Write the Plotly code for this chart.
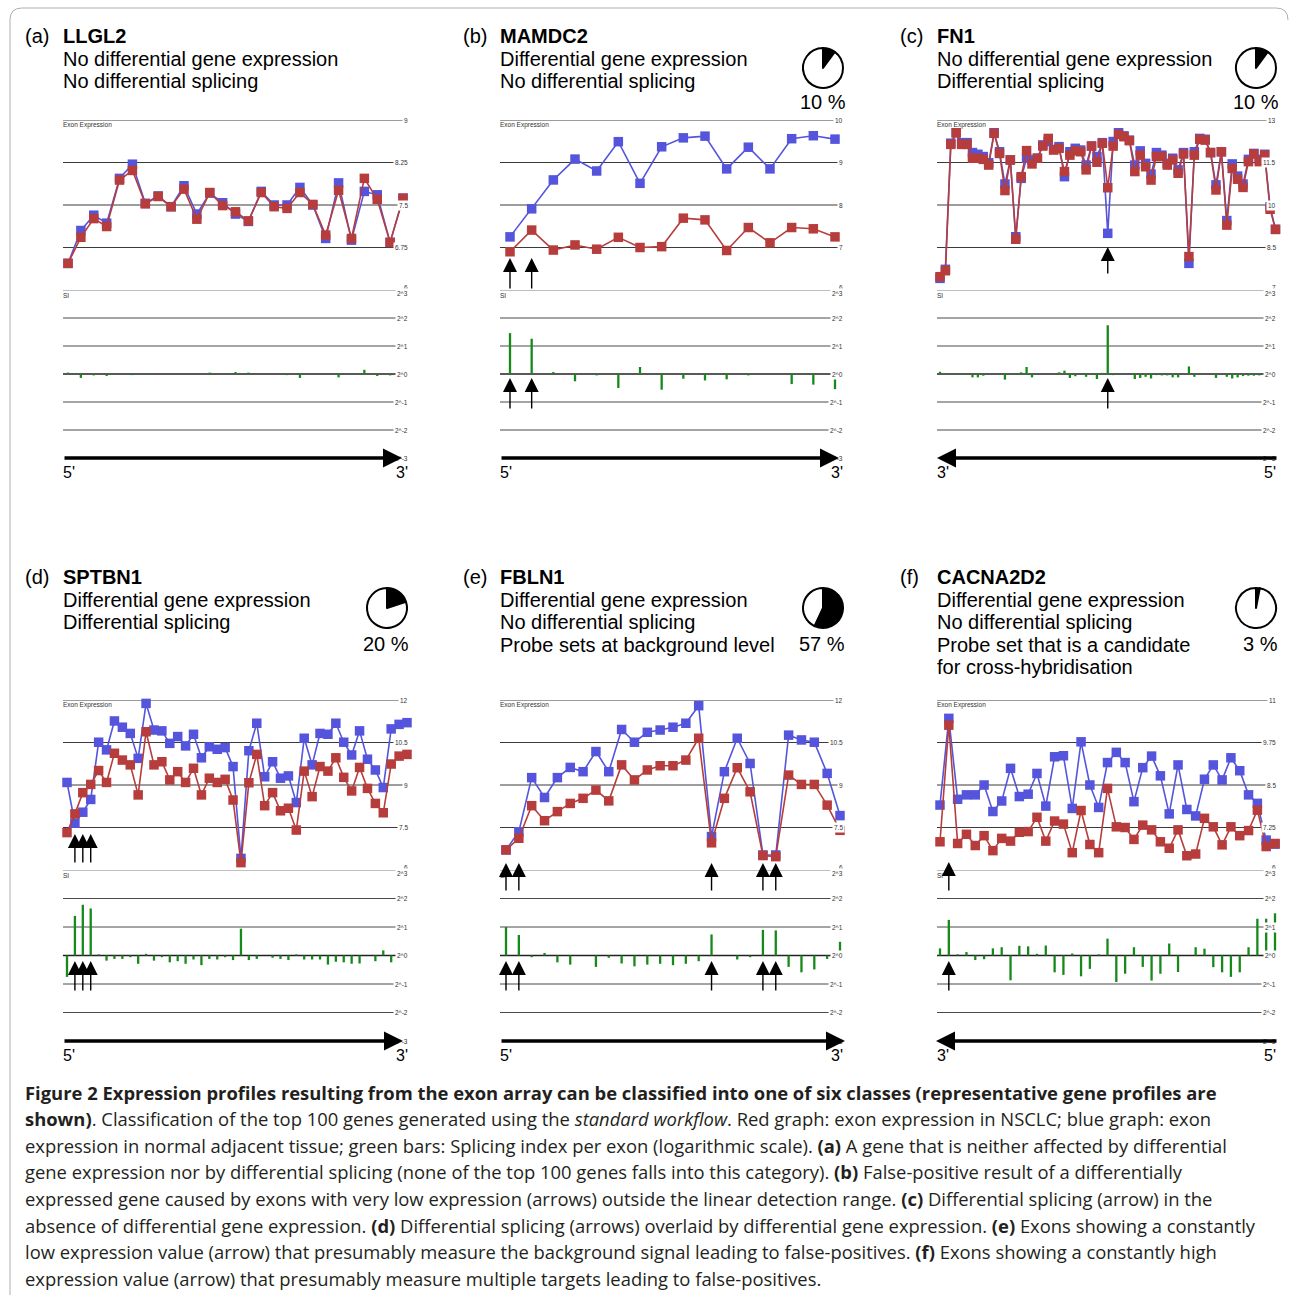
import plotly.graph_objects as go

W, H = 1290, 1295

# ---------------- data ----------------
genes = ["LLGL2", "MAMDC2", "FN1", "SPTBN1", "FBLN1", "CACNA2D2"]
letters = ["(a)", "(b)", "(c)", "(d)", "(e)", "(f)"]
descriptions = [
    ["No differential gene expression", "No differential splicing"],
    ["Differential gene expression", "No differential splicing"],
    ["No differential gene expression", "Differential splicing"],
    ["Differential gene expression", "Differential splicing"],
    ["Differential gene expression", "No differential splicing", "Probe sets at background level"],
    ["Differential gene expression", "No differential splicing", "Probe set that is a candidate",
     "for cross-hybridisation"],
]
percentages = [None, 10, 10, 20, 57, 3]

si_ticks = [3, 2, 1, 0, -1, -2, -3]
si_tick_labels = ["2^3", "2^2", "2^1", "2^0", "2^-1", "2^-2", "2^-3"]

# (a) LLGL2
a_normal = [6.47, 7.05, 7.32, 7.18, 7.97, 8.22, 7.53, 7.66, 7.47, 7.84, 7.34, 7.71, 7.54, 7.34, 7.21,
            7.74, 7.5, 7.5, 7.81, 7.5, 6.91, 7.89, 6.88, 7.74, 7.68, 6.84, 7.62]
a_nsclc = [6.47, 6.93, 7.26, 7.12, 7.94, 8.11, 7.52, 7.65, 7.47, 7.78, 7.25, 7.72, 7.49, 7.38, 7.22,
           7.72, 7.47, 7.44, 7.72, 7.51, 6.97, 7.76, 6.91, 7.97, 7.6, 6.84, 7.62]
a_si = [0.05, -0.14, -0.05, -0.07, 0, -0.04, 0.03, 0, 0, 0, 0, 0.05, 0, 0.07, 0.05, 0, 0, -0.04,
        -0.14, 0.03, 0, -0.12, 0, 0.15, -0.07, -0.05, 0]
a_ticks = [9, 8.25, 7.5, 6.75, 6]
a_tick_labels = ["9", "8.25", "7.5", "6.75", "6"]
a_arrows = []

# (b) MAMDC2
b_normal = [7.25, 7.91, 8.59, 9.08, 8.80, 9.49, 8.51, 9.37, 9.58, 9.62, 8.85, 9.36, 8.85, 9.56, 9.63, 9.55]
b_nsclc = [6.90, 7.41, 6.94, 7.06, 6.96, 7.24, 7.00, 7.02, 7.69, 7.65, 6.93, 7.47, 7.11, 7.47, 7.44, 7.25]
b_si = [1.46, 1.26, 0.07, -0.26, -0.05, -0.5, 0.25, -0.56, -0.17, -0.23, -0.19, -0.05, 0, -0.36, -0.38, -0.54]
b_ticks = [10, 9, 8, 7, 6]
b_tick_labels = ["10", "9", "8", "7", "6"]
b_arrows = [0, 1]

# (c) FN1
c_normal = [7.41, 7.73, 12.18, 12.55, 12.2, 12.2, 11.85, 11.79, 11.71, 11.49, 12.55, 11.88, 10.74, 11.59,
            8.88, 10.94, 11.65, 11.59, 11.65, 12.12, 12.24, 11.96, 12.06, 11.0, 11.88, 12.0, 11.94, 11.41,
            12.08, 11.71, 12.2, 9.0, 12.24, 12.55, 12.44, 12.29, 11.41, 11.91, 11.47, 11.09, 11.85, 11.76,
            11.47, 11.65, 11.24, 11.85, 7.94, 11.88, 12.35, 12.32, 11.85, 10.71, 11.88, 9.45, 11.45, 11.02,
            10.74, 11.61, 11.82, 11.61, 11.79, 9.94, 9.14]
c_nsclc = [7.47, 7.68, 12.14, 12.55, 12.14, 12.14, 11.65, 11.65, 11.61, 11.41, 12.53, 11.82, 10.51, 11.59,
           8.79, 11.0, 11.92, 11.45, 11.65, 12.08, 12.35, 11.94, 12.0, 11.18, 11.76, 11.91, 11.88, 11.24,
           12.08, 11.51, 12.18, 10.61, 12.08, 12.49, 12.41, 12.27, 11.18, 11.76, 11.35, 10.88, 11.71, 11.71,
           11.41, 11.59, 11.12, 11.8, 8.18, 11.76, 12.32, 12.29, 11.85, 10.53, 11.88, 9.29, 11.29, 10.91,
           10.62, 11.53, 11.8, 11.53, 11.76, 9.85, 9.14]
c_si = [0.08, 0, -0.03, 0.03, -0.03, 0, -0.12, -0.12, -0.06, 0, 0, 0, -0.2, 0, -0.03, 0.06, 0.25, -0.12,
        0, 0, 0.03, 0, 0.06, 0.12, -0.14, -0.08, 0, -0.1, 0.03, -0.18, 0.04, 1.74, -0.04, 0, 0, 0, -0.18,
        -0.14, -0.1, -0.16, -0.04, -0.05, -0.05, -0.12, -0.12, 0, 0.27, -0.1, 0, 0, 0, -0.14, 0, -0.1,
        -0.16, -0.12, -0.07, -0.06, -0.06, -0.05, 0, 0, 0]
c_ticks = [13, 11.5, 10, 8.5, 7]
c_tick_labels = ["13", "11.5", "10", "8.5", "7"]
c_arrows = [31]

# (d) SPTBN1
d_normal = [9.09, 7.65, 8.04, 8.49, 10.51, 10.24, 11.26, 11.04, 10.82, 9.94, 11.88, 10.94, 10.91, 10.47,
            10.71, 10.38, 10.79, 9.96, 10.35, 10.26, 10.32, 9.65, 6.41, 10.21, 11.18, 9.29, 9.82, 9.24,
            9.32, 8.38, 10.65, 9.71, 10.82, 10.79, 11.18, 10.51, 10.06, 10.91, 9.91, 9.53, 8.91, 10.98,
            11.14, 11.2]
d_nsclc = [7.32, 7.98, 8.73, 9.02, 9.51, 9.09, 10.12, 9.88, 9.71, 8.65, 10.88, 9.71, 9.82, 9.18, 9.47,
           9.09, 9.59, 8.65, 9.24, 9.09, 9.2, 8.47, 6.26, 9.08, 10.08, 8.27, 8.73, 8.09, 8.18, 7.41, 9.49,
           8.59, 9.65, 9.49, 9.96, 9.27, 8.79, 9.62, 8.88, 8.35, 8.02, 9.74, 10.02, 10.08]
d_si = [-0.75, 1.39, 1.78, 1.65, 0.04, -0.18, -0.12, -0.12, -0.06, -0.29, 0.06, -0.18, -0.06, -0.24,
        -0.2, -0.29, -0.14, -0.34, -0.12, -0.14, -0.06, -0.16, 0.94, -0.16, -0.12, 0, -0.08, -0.12,
        -0.16, 0.04, -0.14, -0.14, -0.14, -0.32, -0.22, -0.24, -0.29, -0.28, 0, -0.2, 0.18, -0.24, 0, 0]
d_ticks = [12, 10.5, 9, 7.5, 6]
d_tick_labels = ["12", "10.5", "9", "7.5", "6"]
d_arrows = [1, 2, 3]

# (e) FBLN1
e_normal = [6.71, 7.35, 9.26, 8.56, 9.26, 9.62, 9.47, 10.18, 9.47, 10.96, 10.51, 10.86, 10.94, 11.04,
            11.18, 11.8, 7.18, 9.47, 10.65, 9.76, 6.53, 6.53, 10.76, 10.59, 10.51, 9.41, 7.92]
e_nsclc = [6.71, 7.12, 8.27, 7.74, 8.06, 8.35, 8.53, 8.82, 8.44, 9.71, 9.18, 9.53, 9.68, 9.68, 9.88,
           10.65, 6.96, 8.53, 9.61, 8.76, 6.51, 6.47, 9.35, 9.02, 9.02, 8.29, 7.4]
e_si = [1.0, 0.72, -0.06, 0.09, -0.24, -0.32, 0, -0.4, -0.08, -0.28, -0.38, -0.32, -0.29, -0.34, -0.29,
        -0.2, 0.74, 0, -0.14, -0.06, 0.9, 0.88, -0.4, -0.59, -0.49, -0.12, 0.48]
e_ticks = [12, 10.5, 9, 7.5, 6]
e_tick_labels = ["12", "10.5", "9", "7.5", "6"]
e_arrows = [0, 1, 16, 20, 21]

# (f) CACNA2D2
f_normal = [7.91, 10.46, 8.08, 8.21, 8.21, 8.5, 7.72, 8.03, 8.99, 8.16, 8.23, 8.84, 7.88, 9.33, 9.36,
            7.81, 9.77, 8.5, 7.84, 9.16, 9.46, 9.16, 8.01, 9.01, 9.35, 8.77, 7.65, 9.09, 7.78, 7.59, 8.67,
            9.09, 8.65, 9.30, 8.92, 8.21, 7.96, 6.88, 6.76]
f_nsclc = [6.83, 10.26, 6.78, 7.05, 6.72, 7.01, 6.57, 6.93, 6.85, 7.11, 7.13, 7.55, 6.85, 7.44, 7.35,
           6.51, 7.75, 6.75, 6.51, 8.40, 7.27, 7.25, 6.90, 7.32, 7.18, 6.83, 6.64, 7.18, 6.42, 6.47, 7.52,
           7.27, 6.74, 7.27, 7.01, 7.16, 7.76, 6.69, 6.78]
f_si = [0.25, 1.25, 0.04, 0.12, -0.16, -0.13, 0.25, 0.29, -0.87, 0.34, 0.32, 0.06, 0.35, -0.59, -0.68,
        0.07, -0.73, -0.47, 0.04, 0.59, -0.93, -0.64, 0.29, -0.4, -0.88, -0.64, 0.42, -0.58, 0, 0.29,
        0.24, -0.41, -0.59, -0.75, -0.59, 0.29, 1.29, 1.29, 1.48]
f_ticks = [11, 9.75, 8.5, 7.25, 6]
f_tick_labels = ["11", "9.75", "8.5", "7.25", "6"]
f_arrows = [1]

orientations = ["right", "right", "left", "right", "right", "left"]

caption_lines = [
    "<b>Figure 2 Expression profiles resulting from the exon array can be classified into one of six classes (representative gene profiles are</b>",
    "<b>shown)</b>. Classification of the top 100 genes generated using the <i>standard workflow</i>. Red graph: exon expression in NSCLC; blue graph: exon",
    "expression in normal adjacent tissue; green bars: Splicing index per exon (logarithmic scale). <b>(a)</b> A gene that is neither affected by differential",
    "gene expression nor by differential splicing (none of the top 100 genes falls into this category). <b>(b)</b> False-positive result of a differentially",
    "expressed gene caused by exons with very low expression (arrows) outside the linear detection range. <b>(c)</b> Differential splicing (arrow) in the",
    "absence of differential gene expression. <b>(d)</b> Differential splicing (arrows) overlaid by differential gene expression. <b>(e)</b> Exons showing a constantly",
    "low expression value (arrow) that presumably measure the background signal leading to false-positives. <b>(f)</b> Exons showing a constantly high",
    "expression value (arrow) that presumably measure multiple targets leading to false-positives.",
]

panels = [
    dict(normal=a_normal, nsclc=a_nsclc, si=a_si, ticks=a_ticks, labels=a_tick_labels, arrows=a_arrows),
    dict(normal=b_normal, nsclc=b_nsclc, si=b_si, ticks=b_ticks, labels=b_tick_labels, arrows=b_arrows),
    dict(normal=c_normal, nsclc=c_nsclc, si=c_si, ticks=c_ticks, labels=c_tick_labels, arrows=c_arrows),
    dict(normal=d_normal, nsclc=d_nsclc, si=d_si, ticks=d_ticks, labels=d_tick_labels, arrows=d_arrows),
    dict(normal=e_normal, nsclc=e_nsclc, si=e_si, ticks=e_ticks, labels=e_tick_labels, arrows=e_arrows),
    dict(normal=f_normal, nsclc=f_nsclc, si=f_si, ticks=f_ticks, labels=f_tick_labels, arrows=f_arrows),
]

# ---------------- styling / geometry ----------------
BLUE = "#5454dc"
RED = "#b73d3d"
GREEN = "#15891a"
HDR_FONT = "Liberation Sans, Arial, sans-serif"
CAP_FONT = "Open Sans, sans-serif"

col_left = [63, 500, 937]
col_right = [410, 845, 1278]
letter_x = [25, 463, 900]
row_top = [120, 700]
row_mid = [290, 870]
row_bot = [458, 1041]
point_px = [(68, 403), (510, 835), (940, 1275.5), (67, 407), (506, 840), (940, 1275)]
expr_arrow_px = [None, (258, 290), (247, 275), (834, 864), (863, 892), (862, 892)]
si_arrow_px = [(378, 410), (961, 992)]
dir_tip_px = [402, 839, 937, 403, 845, 936]
header_y = [[36, 59, 81], [577, 600, 622, 645, 667]]
pie_center = [None, (823, 68), (1256, 68), (387, 608), (823, 608), (1256, 608)]
pct_pos = [None, (823, 102), (1256, 102), (386, 644), (822, 644), (1260, 644)]
TXT_DX = 2  # annotation box padding compensation


def py(v):
    return 1 - v / H


fig = go.Figure()
layout = {}
ann = []
shp = []

for p, pan in enumerate(panels):
    r, c = divmod(p, 3)
    n = len(pan["normal"])
    L, R = col_left[c], col_right[c]
    f0, f1 = point_px[p]
    s = (f1 - f0) / (n - 1)
    xi = p + 1
    ye, ys = 2 * p + 1, 2 * p + 2
    xn = "x" if xi == 1 else f"x{xi}"
    yen = "y" if ye == 1 else f"y{ye}"
    ysn = f"y{ys}"
    ymin, ymax = min(pan["ticks"]), max(pan["ticks"])
    layout["xaxis" if xi == 1 else f"xaxis{xi}"] = dict(
        domain=[L / W, R / W], range=[(L - f0) / s, (R - f0) / s], visible=False, anchor=yen, fixedrange=True)
    layout["yaxis" if ye == 1 else f"yaxis{ye}"] = dict(
        domain=[py(row_mid[r]), py(row_top[r])], range=[ymin, ymax], visible=False, anchor=xn, fixedrange=True)
    layout[f"yaxis{ys}"] = dict(
        domain=[py(row_bot[r]), py(row_mid[r])], range=[-3, 3], visible=False, anchor=xn, fixedrange=True)

    idx = list(range(n))
    fig.add_trace(go.Bar(x=idx, y=pan["si"], width=2.3 / s, marker=dict(color=GREEN, line_width=0),
                         xaxis=xn, yaxis=ysn, hoverinfo="skip", showlegend=False))
    fig.add_trace(go.Scatter(x=idx, y=pan["normal"], mode="lines+markers", cliponaxis=False,
                             line=dict(color=BLUE, width=1.6),
                             marker=dict(symbol="square", size=9.5, color=BLUE),
                             xaxis=xn, yaxis=yen, showlegend=False, name="normal"))
    fig.add_trace(go.Scatter(x=idx, y=pan["nsclc"], mode="lines+markers", cliponaxis=False,
                             line=dict(color=RED, width=1.6),
                             marker=dict(symbol="square", size=9.5, color=RED),
                             xaxis=xn, yaxis=yen, showlegend=False, name="NSCLC"))

    # grid lines
    for v in pan["ticks"]:
        if v == ymin:
            continue
        shp.append(dict(type="line", xref="paper", yref=yen, x0=L / W, x1=(R - 1) / W, y0=v, y1=v,
                        line=dict(color="#3a3a3a", width=1), layer="below"))
    for v in si_ticks:
        if v == -3:
            continue
        if v == 3:
            col, wd = "#a8a8a8", 1.6
        elif v == 0:
            col, wd = "#222222", 1.4
        else:
            col, wd = "#4a4a4a", 1
        shp.append(dict(type="line", xref="paper", yref=ysn, x0=L / W, x1=(R - 1) / W, y0=v, y1=v,
                        line=dict(color=col, width=wd), layer="below"))

    # tick labels
    small = dict(size=6.5, color="#333", family=HDR_FONT)
    for v, t in zip(pan["ticks"], pan["labels"]):
        ann.append(dict(xref="paper", yref=yen, x=R / W, y=v, text=t, xanchor="right", yanchor="middle",
                        showarrow=False, font=small, bgcolor="white", borderpad=1,
                        yshift=3 if v == ymin else 0))
    for v, t in zip(si_ticks, si_tick_labels):
        ann.append(dict(xref="paper", yref=ysn, x=R / W, y=v, text=t, xanchor="right", yanchor="middle",
                        showarrow=False, font=small, bgcolor="white" if v != -3 else None, borderpad=1,
                        yshift=-3 if v == 3 else 0))
    ann.append(dict(xref="paper", yref="paper", x=(L - TXT_DX) / W, y=py(row_top[r] - 1), text="Exon Expression",
                    xanchor="left", yanchor="top", showarrow=False, font=small))
    ann.append(dict(xref="paper", yref="paper", x=(L - TXT_DX) / W, y=py(row_mid[r]), text="SI",
                    xanchor="left", yanchor="top", showarrow=False, font=small))

    # exon arrows
    for k in pan["arrows"]:
        tip, base = expr_arrow_px[p]
        ann.append(dict(xref=xn, yref="paper", x=k, y=py(tip), ax=0, ay=base - tip, text="",
                        showarrow=True, arrowhead=2, arrowsize=2.0, arrowwidth=1.4, arrowcolor="black"))
        tip, base = si_arrow_px[r]
        ann.append(dict(xref=xn, yref="paper", x=k, y=py(tip), ax=0, ay=base - tip, text="",
                        showarrow=True, arrowhead=2, arrowsize=2.0, arrowwidth=1.4, arrowcolor="black"))

    # direction arrow + 5'/3' labels
    tip = dir_tip_px[p]
    tail = L if orientations[p] == "right" else R
    ann.append(dict(xref="paper", yref="paper", x=tip / W, y=py(row_bot[r]), ax=tail - tip, ay=0, text="",
                    showarrow=True, arrowhead=2, arrowsize=1.15, arrowwidth=3.3, arrowcolor="black"))
    left_lab, right_lab = ("5'", "3'") if orientations[p] == "right" else ("3'", "5'")
    lab_font = dict(size=16, color="black", family=HDR_FONT)
    ann.append(dict(xref="paper", yref="paper", x=(L - TXT_DX) / W, y=py(row_bot[r] + 14), text=left_lab,
                    xanchor="left", yanchor="middle", showarrow=False, font=lab_font))
    ann.append(dict(xref="paper", yref="paper", x=R / W, y=py(row_bot[r] + 14), text=right_lab,
                    xanchor="right", yanchor="middle", showarrow=False, font=lab_font))

    # header
    hf = dict(size=20, color="black", family=HDR_FONT)
    hy = header_y[r]
    ann.append(dict(xref="paper", yref="paper", x=(letter_x[c] - TXT_DX) / W, y=py(hy[0]), text=letters[p],
                    xanchor="left", yanchor="middle", showarrow=False, font=hf))
    ann.append(dict(xref="paper", yref="paper", x=(L - TXT_DX) / W, y=py(hy[0]), text=f"<b>{genes[p]}</b>",
                    xanchor="left", yanchor="middle", showarrow=False, font=hf))
    for i, line in enumerate(descriptions[p]):
        ann.append(dict(xref="paper", yref="paper", x=(L - TXT_DX) / W, y=py(hy[i + 1]), text=line,
                        xanchor="left", yanchor="middle", showarrow=False, font=hf))

    # pie
    if percentages[p] is not None:
        cx, cy = pie_center[p]
        rad = 20
        fig.add_trace(go.Pie(values=[percentages[p], 100 - percentages[p]], sort=False, direction="clockwise",
                             rotation=0, textinfo="none", hoverinfo="skip", showlegend=False,
                             marker=dict(colors=["black", "white"], line=dict(color="black", width=2)),
                             domain=dict(x=[(cx - rad) / W, (cx + rad) / W], y=[py(cy + rad), py(cy - rad)])))
        tx, ty = pct_pos[p]
        ann.append(dict(xref="paper", yref="paper", x=tx / W, y=py(ty), text=f"{percentages[p]} %",
                        xanchor="center", yanchor="middle", showarrow=False, font=hf))

# caption
cap_y0, cap_dy = 1091, 26.6
for i, line in enumerate(caption_lines):
    ann.append(dict(xref="paper", yref="paper", x=(25 - TXT_DX) / W, y=py(cap_y0 + i * cap_dy + 1), text=line,
                    xanchor="left", yanchor="middle", showarrow=False,
                    font=dict(size=18.4, color="#231f20", family=CAP_FONT)))

# outer frame
def pp(x, y):
    return f"{x / W:.5f},{py(y):.5f}"

frame = (f"M{pp(10, 1295)} L{pp(10, 20)} Q{pp(10, 8)} {pp(22, 8)} L{pp(1276, 8)} "
         f"Q{pp(1288, 8)} {pp(1288, 20)}")
shp.append(dict(type="path", xref="paper", yref="paper", path=frame,
                line=dict(color="#b0b0b0", width=1)))

fig.update_layout(width=W, height=H, margin=dict(l=0, r=0, t=0, b=0), paper_bgcolor="white",
                  plot_bgcolor="white", showlegend=False, annotations=ann, shapes=shp, **layout)
fig.write_html("out.html", config={"displayModeBar": False, "staticPlot": True},
               post_script="document.body.style.margin='0';document.body.style.overflow='hidden';")
